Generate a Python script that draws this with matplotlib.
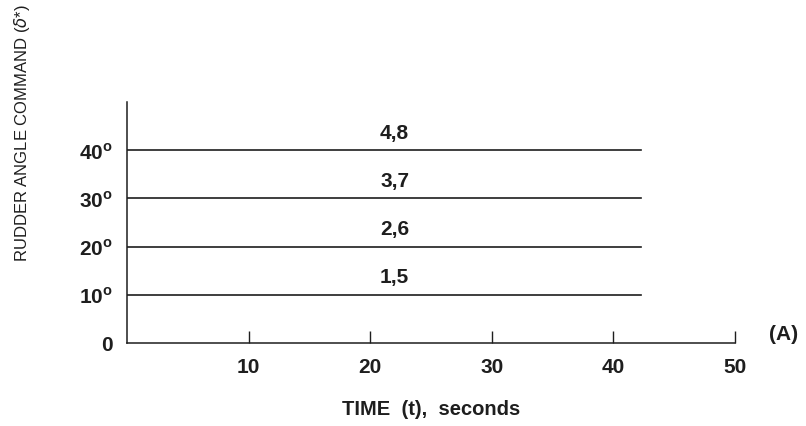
import numpy as np
import matplotlib.pyplot as plt
import matplotlib

matplotlib.rcParams['font.family'] = 'Liberation Sans'
matplotlib.rcParams['mathtext.fontset'] = 'custom'
matplotlib.rcParams['mathtext.rm'] = 'Liberation Sans'
matplotlib.rcParams['mathtext.bf'] = 'Liberation Sans:bold'

# Dati: comandi di timone costanti
levels = [10, 20, 30, 40]
run_labels = ['1,5', '2,6', '3,7', '4,8']
t_end = 42.3
label_t = 22.0

xticks = [10, 20, 30, 40, 50]
yticks = [0, 10, 20, 30, 40]
ytick_labels = ['0', r'10$^{\mathbf{o}}$', r'20$^{\mathbf{o}}$', r'30$^{\mathbf{o}}$', r'40$^{\mathbf{o}}$']

ink = '#1e1e1e'

fig = plt.figure(figsize=(8.06, 4.27), dpi=100)
ax = fig.add_axes([0.1576, 0.1944, 0.7544, 0.5644])
ax.spines['top'].set_visible(False)
ax.spines['right'].set_visible(False)
ax.spines['left'].set_color(ink)
ax.spines['bottom'].set_color(ink)
ax.spines['left'].set_linewidth(1.1)
ax.spines['bottom'].set_linewidth(1.1)

for lev, lab in zip(levels, run_labels):
    ax.plot([0, t_end], [lev, lev], color=ink, linewidth=1.2)
    ax.text(label_t, lev + 3.7, lab, ha='center', va='center',
            fontsize=15, fontweight='bold', color=ink)

ax.set_xlim(0, 50)
ax.set_ylim(0, 50)
ax.set_xticks(xticks)
ax.set_yticks(yticks)
ax.set_yticklabels(ytick_labels)
ax.tick_params(axis='x', direction='in', length=9, width=1, color=ink, pad=10,
               labelsize=15, labelcolor=ink)
ax.tick_params(axis='y', length=0, pad=10, labelsize=15, labelcolor=ink)
for lab in ax.get_xticklabels() + ax.get_yticklabels():
    lab.set_fontweight('bold')

ax.set_xlabel('TIME  (t),  seconds', fontsize=14.5, fontweight='bold', color=ink, labelpad=17)
ax.set_ylabel(r'RUDDER ANGLE COMMAND ($\delta$*)', fontsize=12, color=ink)
ax.yaxis.set_label_coords(-0.156, 0.875)
ax.text(1.079, 2, '(A)', transform=ax.get_yaxis_transform(), ha='center', va='center',
        fontsize=15, fontweight='bold', color=ink)

plt.savefig('out.png', dpi=100)
